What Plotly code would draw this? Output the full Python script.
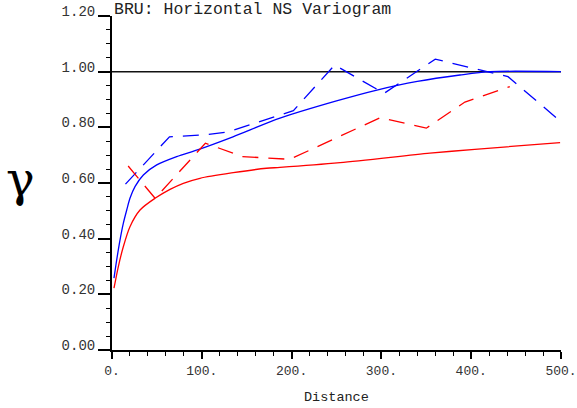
import plotly.graph_objects as go

# Experimental variogram points (dashed)
blue_exp_x = [15, 64, 104, 129, 202, 248, 303, 360, 441, 500]
blue_exp_y = [0.596, 0.766, 0.773, 0.783, 0.860, 1.024, 0.922, 1.045, 0.982, 0.820]

red_exp_x = [18, 48, 104, 145, 198, 299, 350, 393, 443]
red_exp_y = [0.661, 0.545, 0.743, 0.695, 0.685, 0.835, 0.797, 0.891, 0.946]

# Model curves (solid)
blue_mod_x = [2.2, 5.2, 8.9, 12.6, 16.4, 20, 25.6, 34.9, 49.8, 72, 96, 134.7, 187, 250, 295, 340, 387.5, 421, 500]
blue_mod_y = [0.258, 0.323, 0.395, 0.455, 0.503, 0.545, 0.587, 0.629, 0.665, 0.695, 0.72, 0.766, 0.833, 0.895, 0.934, 0.965, 0.988, 1.0, 1.0]

red_mod_x = [2.2, 7, 12.6, 20, 31.2, 47.9, 64.6, 79.4, 98, 135, 172, 187, 254, 354, 404, 499]
red_mod_y = [0.222, 0.299, 0.371, 0.443, 0.503, 0.545, 0.577, 0.599, 0.617, 0.637, 0.653, 0.656, 0.673, 0.707, 0.721, 0.745]

sill_x = [0, 500]
sill_y = [1.0, 1.0]

x_ticks = [0, 100, 200, 300, 400, 500]
x_tick_text = ["0.", "100.", "200.", "300.", "400.", "500."]

title_text = "BRU: Horizontal NS Variogram"
x_label = "Distance"
y_label = "γ"

MONO = "Liberation Mono, Courier New, monospace"
BLUE = "#0000ff"
RED = "#ff0000"

fig = go.Figure()
fig.add_trace(go.Scatter(x=sill_x, y=sill_y, mode="lines",
                         line=dict(color="#111111", width=1.5), hoverinfo="skip"))
fig.add_trace(go.Scatter(x=blue_mod_x, y=blue_mod_y, mode="lines",
                         line=dict(color=BLUE, width=1.3, shape="spline", smoothing=0.8)))
fig.add_trace(go.Scatter(x=red_mod_x, y=red_mod_y, mode="lines",
                         line=dict(color=RED, width=1.3, shape="spline", smoothing=0.8)))
fig.add_trace(go.Scatter(x=blue_exp_x, y=blue_exp_y, mode="lines",
                         line=dict(color=BLUE, width=1.3, dash="16px,10px")))
fig.add_trace(go.Scatter(x=red_exp_x, y=red_exp_y, mode="lines",
                         line=dict(color=RED, width=1.3, dash="16px,10px")))

fig.update_layout(
    width=577, height=408,
    margin=dict(l=112, r=16, t=16, b=58),
    paper_bgcolor="white", plot_bgcolor="white",
    showlegend=False,
    font=dict(family=MONO, size=13, color="#333333"),
    xaxis=dict(range=[0, 500], tickvals=x_ticks, ticktext=x_tick_text,
               automargin=False,
               showgrid=False, zeroline=False, showline=True,
               linecolor="black", linewidth=2,
               ticks="outside", ticklen=7, tickwidth=1.5, tickcolor="black",
               minor=dict(dtick=20, ticks="outside", ticklen=4, tickwidth=1.2, tickcolor="black", showgrid=False),
               tickfont=dict(family=MONO, size=13, color="#333333")),
    yaxis=dict(range=[0, 1.2], dtick=0.2, tickformat=".2f",
               automargin=False,
               showgrid=False, zeroline=False, showline=True,
               linecolor="black", linewidth=2,
               ticks="outside", ticklen=12, tickwidth=1.5, tickcolor="black",
               ticklabelshift=-5,
               minor=dict(dtick=0.05, ticks="outside", ticklen=4, tickwidth=1.2, tickcolor="black", showgrid=False),
               tickfont=dict(family=MONO, size=14, color="#333333")),
    annotations=[
        dict(text=title_text, xref="paper", yref="paper", x=0.0, y=1.018,
             xanchor="left", yanchor="middle", showarrow=False,
             font=dict(family=MONO, size=16.5, color="#222222")),
        dict(text=x_label, xref="paper", yref="paper", x=0.5, y=-0.141,
             xanchor="center", yanchor="middle", showarrow=False,
             font=dict(family=MONO, size=13.5, color="#222222")),
        dict(text=y_label, xref="paper", yref="paper", x=-0.2027, y=0.512,
             xanchor="center", yanchor="middle", showarrow=False,
             font=dict(family="DejaVu Serif, Liberation Serif, serif", size=48, color="black")),
    ],
)

# remove the page's default 8px body margin so the figure sits at the window origin
fig.write_html("out.html", config={"displayModeBar": False},
               post_script="document.body.style.margin='0px';")
